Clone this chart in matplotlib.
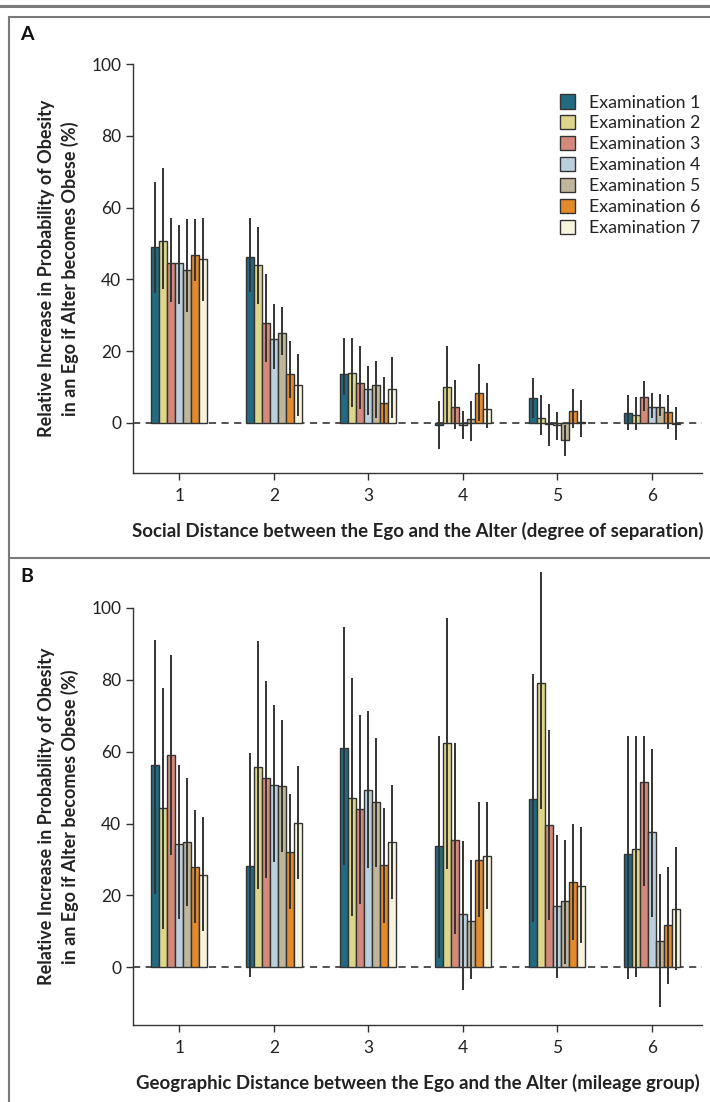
import numpy as np
import matplotlib
matplotlib.use('Agg')
import matplotlib.pyplot as plt
from matplotlib.lines import Line2D

plt.rcParams['font.family'] = ['Lato', 'DejaVu Sans']

groups = [1, 2, 3, 4, 5, 6]
exams = ['Examination 1', 'Examination 2', 'Examination 3', 'Examination 4',
         'Examination 5', 'Examination 6', 'Examination 7']
colors = ['#226a82', '#ddd68a', '#d48a7b', '#bccfdc', '#bfb59a', '#e38a2b', '#f7f4de']

# panel A: social distance, one row per examination
social_mean = [[49.0, 46.1, 13.6, -0.7, 6.9, 2.7],
               [50.6, 44.0, 13.8, 9.9, 1.4, 2.2],
               [44.5, 27.9, 11.0, 4.5, -0.3, 7.1],
               [44.5, 23.4, 9.5, -0.7, -0.6, 4.5],
               [42.5, 24.9, 10.5, 1.0, -4.8, 4.5],
               [46.9, 13.7, 5.4, 8.3, 3.3, 3.1],
               [45.7, 10.6, 9.5, 3.7, 0.3, -0.3]]
social_lo = [[36.2, 36.5, 7.6, -7.3, 1.3, -2.0],
             [37.2, 33.1, 4.4, 0.0, -3.5, -2.0],
             [33.7, 17.0, 3.9, -1.8, -6.6, 3.3],
             [33.1, 14.9, 2.2, -4.4, -4.9, 1.3],
             [30.9, 18.9, 1.3, -5.1, -9.2, 1.8],
             [39.5, 7.0, -0.3, 0.6, -1.4, -1.8],
             [33.9, 1.8, 1.3, -1.4, -4.0, -4.7]]
social_hi = [[67.2, 57.2, 23.7, 6.2, 12.4, 7.8],
             [71.0, 54.7, 23.7, 21.4, 7.8, 7.1],
             [57.0, 41.4, 21.3, 11.9, 5.2, 11.6],
             [55.2, 33.2, 15.7, 3.2, 3.0, 8.4],
             [56.8, 32.2, 17.2, 6.1, -0.5, 8.1],
             [56.8, 22.8, 12.8, 16.4, 9.5, 7.8],
             [57.0, 19.2, 18.4, 11.1, 6.4, 4.3]]

# panel B: geographic distance
geo_mean = [[56.2, 28.1, 61.1, 33.7, 46.9, 31.6],
            [44.3, 55.8, 47.0, 62.4, 79.2, 32.8],
            [59.0, 52.6, 44.0, 35.4, 39.6, 51.7],
            [34.4, 50.8, 49.3, 14.8, 17.1, 37.6],
            [35.0, 50.4, 46.0, 13.0, 18.5, 7.3],
            [28.0, 32.2, 28.4, 30.0, 23.7, 11.7],
            [25.8, 40.2, 34.8, 31.1, 22.7, 16.1]]
geo_lo = [[20.4, -2.8, 28.6, 2.5, 12.7, -3.3],
          [10.6, 21.7, 14.3, 27.5, 44.0, -2.8],
          [31.2, 24.8, 17.7, 9.4, 13.2, 22.5],
          [13.5, 29.2, 27.6, -6.3, -2.9, 14.1],
          [17.1, 32.1, 28.0, -3.3, 0.8, -11.0],
          [12.3, 16.3, 12.4, 14.0, 7.6, -4.6],
          [10.2, 24.7, 19.1, 16.2, 6.7, -0.7]]
geo_hi = [[91.2, 59.7, 94.8, 64.3, 81.7, 64.5],
          [77.7, 90.9, 80.5, 97.3, 109.9, 64.5],
          [87.0, 79.7, 70.3, 62.3, 66.1, 64.5],
          [56.3, 72.9, 71.2, 35.1, 36.9, 60.7],
          [52.6, 68.8, 63.9, 29.8, 35.5, 25.9],
          [43.8, 48.3, 44.3, 46.0, 39.8, 27.9],
          [41.7, 56.0, 50.7, 46.0, 39.0, 33.4]]

ylab = 'Relative Increase in Probability of Obesity\nin an Ego if Alter becomes Obese (%)'
edge = '#333333'
w = 0.085


def draw_panel(ax, mean, lo, hi, xlabel, ymin, show_legend):
    x = np.array(groups, dtype=float)
    ax.axhline(0, color='#444444', lw=1.3, ls=(0, (4, 3)), zorder=1)
    for i in range(len(exams)):
        xi = x + (i - 3) * w
        m = np.array(mean[i])
        ax.bar(xi, m, width=w, color=colors[i], edgecolor=edge, linewidth=1.0,
               label=exams[i], zorder=2)
        err = [m - np.array(lo[i]), np.array(hi[i]) - m]
        ax.errorbar(xi, m, yerr=err, fmt='none', ecolor='#333333', elinewidth=1.4,
                    capsize=0, zorder=3, clip_on=False)
    ax.set_xlim(0.51, 6.53)
    ax.set_ylim(ymin, 100)
    ax.set_xticks(groups)
    ax.set_yticks([0, 20, 40, 60, 80, 100])
    ax.spines['top'].set_visible(False)
    ax.spines['right'].set_visible(False)
    for s in ['left', 'bottom']:
        ax.spines[s].set_color(edge)
        ax.spines[s].set_linewidth(1.0)
    ax.tick_params(colors=edge, labelcolor='#222222', labelsize=12.5, length=5, width=1)
    ax.tick_params(axis='x', pad=6)
    ax.set_xlabel(xlabel, fontsize=13.4, fontweight='bold', labelpad=13, color='#222222')
    ax.set_ylabel(ylab, fontsize=13, fontweight='bold', labelpad=9, color='#222222',
                  linespacing=1.35)
    if show_legend:
        ax.legend(loc='upper right', bbox_to_anchor=(1.025, 0.965), frameon=False,
                  fontsize=12.8, handlelength=0.85, handleheight=0.85, handletextpad=0.75,
                  labelspacing=0.26, labelcolor='#222222')


fig = plt.figure(figsize=(7.1, 11.02), dpi=100)

axA = fig.add_axes([0.1873, 0.5708, 0.8014, 0.3711])
draw_panel(axA, social_mean, social_lo, social_hi,
           'Social Distance between the Ego and the Alter (degree of separation)', -14, True)

axB = fig.add_axes([0.1873, 0.0700, 0.8014, 0.3783])
draw_panel(axB, geo_mean, geo_lo, geo_hi,
           'Geographic Distance between the Ego and the Alter (mileage group)', -16, False)

# frame lines around the panels
gray = '#7a7a7a'
H = 1102.0
fig.add_artist(Line2D([0, 1], [1 - 6 / H, 1 - 6 / H], color=gray, lw=2.2))
fig.add_artist(Line2D([9 / 710, 1], [1 - 17 / H, 1 - 17 / H], color=gray, lw=1.5))
fig.add_artist(Line2D([9 / 710, 1], [1 - 558 / H, 1 - 558 / H], color=gray, lw=1.5))
fig.add_artist(Line2D([9 / 710, 9 / 710], [0, 1 - 17 / H], color=gray, lw=1.5))

fig.text(20 / 710, 1 - 34 / H, 'A', fontsize=14, fontweight='bold', va='center', color='#111111')
fig.text(20 / 710, 1 - 576 / H, 'B', fontsize=14, fontweight='bold', va='center', color='#111111')

fig.savefig('out.png', dpi=100)
